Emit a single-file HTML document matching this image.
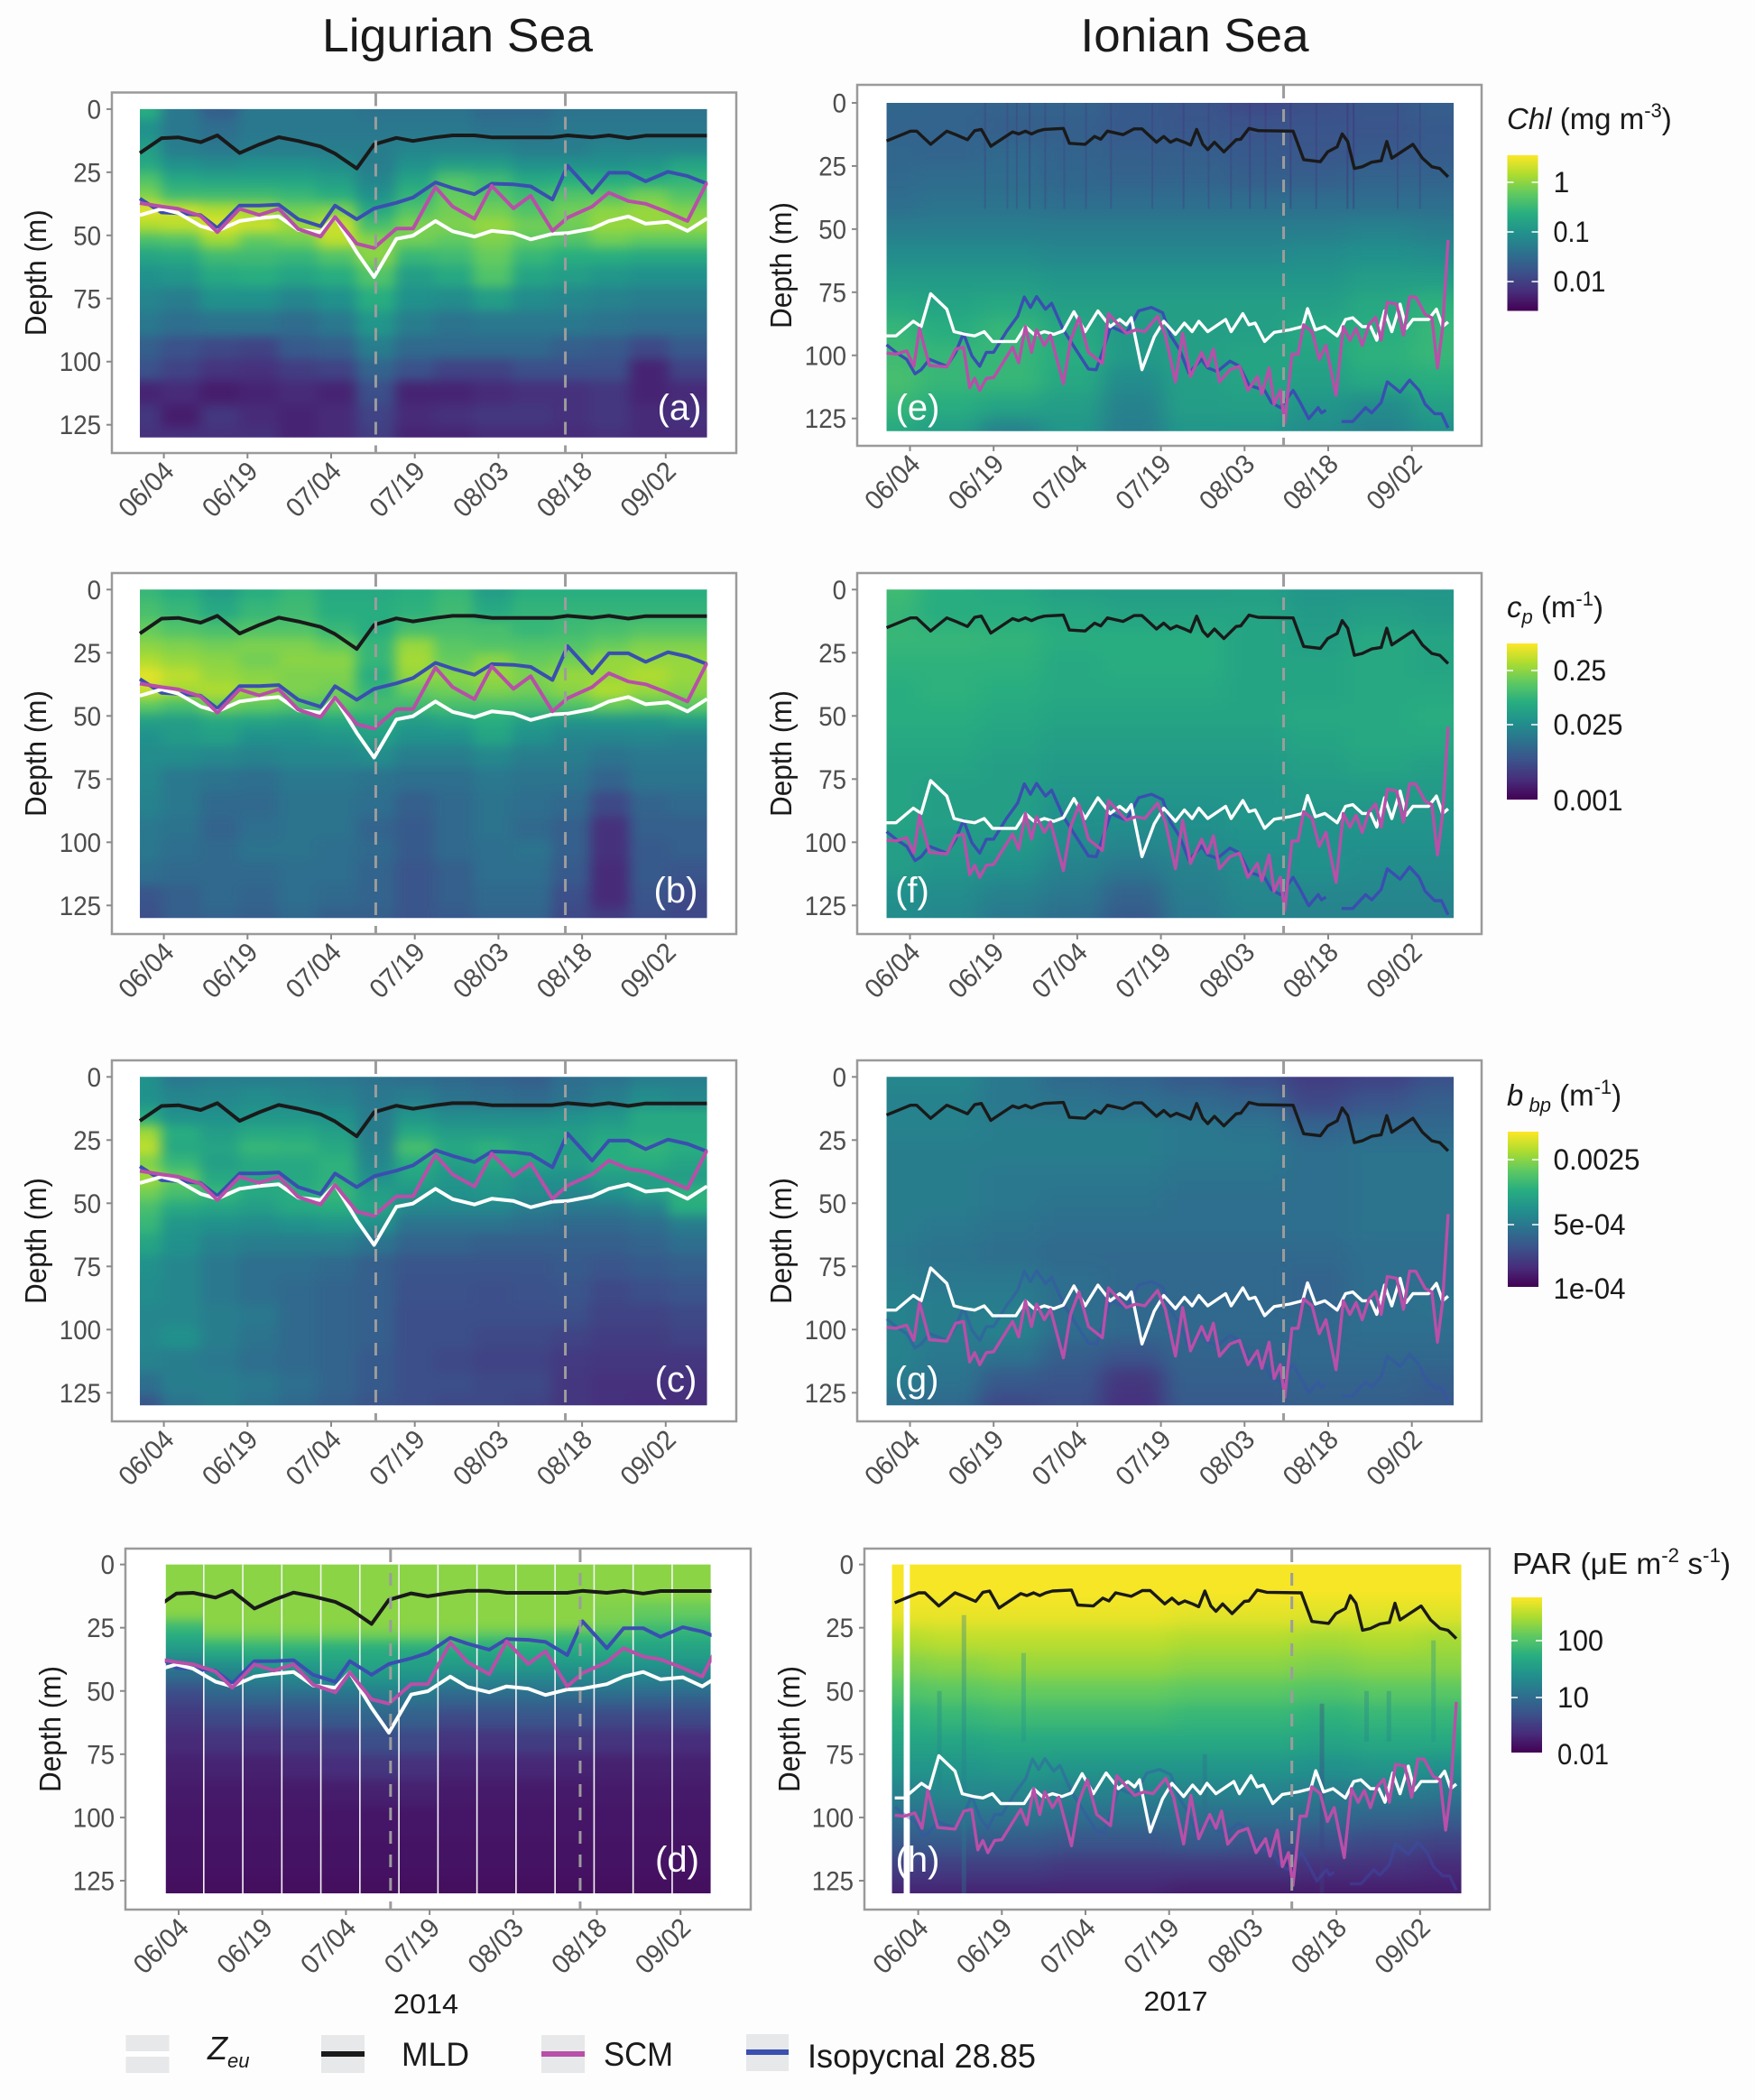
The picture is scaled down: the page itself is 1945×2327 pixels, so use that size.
<!DOCTYPE html>
<html lang="en">
<head>
<meta charset="utf-8">
<title>Ligurian Sea and Ionian Sea depth-time sections</title>
<style>
html,body{margin:0;padding:0;background:#fdfdfd;}
svg{display:block;font-family:"Liberation Sans",sans-serif;}
</style>
</head>
<body>
<svg id="figure" xmlns="http://www.w3.org/2000/svg" width="1945" height="2327" viewBox="0 0 1945 2327">
  <defs>
    <filter id="blur-ligurian" filterUnits="userSpaceOnUse" x="0" y="0" width="1945" height="2327" color-interpolation-filters="sRGB"><feGaussianBlur stdDeviation="7 6"/></filter>
    <filter id="blur-weekly" filterUnits="userSpaceOnUse" x="0" y="0" width="1945" height="2327" color-interpolation-filters="sRGB"><feGaussianBlur stdDeviation="0 6"/></filter>
    <filter id="blur-ionian" filterUnits="userSpaceOnUse" x="0" y="0" width="1945" height="2327" color-interpolation-filters="sRGB"><feGaussianBlur stdDeviation="12 9"/></filter>
    <linearGradient id="viridis-bar" x1="0" y1="1" x2="0" y2="0">
      <stop offset="0" stop-color="#440154"/><stop offset="0.125" stop-color="#472d7b"/><stop offset="0.25" stop-color="#3b528b"/><stop offset="0.375" stop-color="#2c728e"/><stop offset="0.5" stop-color="#21918c"/><stop offset="0.625" stop-color="#28ae80"/><stop offset="0.75" stop-color="#5ec962"/><stop offset="0.875" stop-color="#addc30"/><stop offset="1" stop-color="#fde725"/>
    </linearGradient>
  </defs>

  <text x="507" y="57" font-size="52" text-anchor="middle" fill="#1a1a1a" textLength="300" lengthAdjust="spacingAndGlyphs">Ligurian Sea</text>
  <text x="1324" y="57" font-size="52" text-anchor="middle" fill="#1a1a1a" textLength="253" lengthAdjust="spacingAndGlyphs">Ionian Sea</text>

  <g id="panels"></g>

  <g>
    <text x="1670" y="143" font-size="33" fill="#1a1a1a"><tspan font-style="italic">Chl</tspan> (mg m<tspan dy="-13" font-size="22">-3</tspan><tspan dy="13">)</tspan></text>
    <rect x="1670.5" y="172" width="34" height="172.5" fill="url(#viridis-bar)"/>
    <path d="M1670.5 202h7M1697.5 202h7M1670.5 257h7M1697.5 257h7M1670.5 312h7M1697.5 312h7" stroke="#fff" stroke-width="1.5"/>
    <text x="1721.5" y="213" font-size="32" fill="#1a1a1a">1</text>
    <text x="1721.5" y="268" font-size="32" fill="#1a1a1a" textLength="40" lengthAdjust="spacingAndGlyphs">0.1</text>
    <text x="1721.5" y="323" font-size="32" fill="#1a1a1a" textLength="58" lengthAdjust="spacingAndGlyphs">0.01</text>
  </g>
  <g>
    <text x="1670" y="684" font-size="33" fill="#1a1a1a"><tspan font-style="italic">c</tspan><tspan font-style="italic" font-size="22" dy="7">p</tspan><tspan dy="-7"> (m</tspan><tspan dy="-13" font-size="22">-1</tspan><tspan dy="13">)</tspan></text>
    <rect x="1670" y="713" width="34" height="173" fill="url(#viridis-bar)"/>
    <path d="M1670 743h7M1697 743h7M1670 803h7M1697 803h7" stroke="#fff" stroke-width="1.5"/>
    <text x="1721.5" y="754" font-size="32" fill="#1a1a1a" textLength="58.6" lengthAdjust="spacingAndGlyphs">0.25</text>
    <text x="1721.5" y="814" font-size="32" fill="#1a1a1a" textLength="77" lengthAdjust="spacingAndGlyphs">0.025</text>
    <text x="1721.5" y="898" font-size="32" fill="#1a1a1a" textLength="77" lengthAdjust="spacingAndGlyphs">0.001</text>
  </g>
  <g>
    <text x="1670" y="1225" font-size="33" fill="#1a1a1a"><tspan font-style="italic">b</tspan><tspan font-style="italic" font-size="22" dy="7"> bp</tspan><tspan dy="-7"> (m</tspan><tspan dy="-13" font-size="22">-1</tspan><tspan dy="13">)</tspan></text>
    <rect x="1671" y="1254" width="34" height="172" fill="url(#viridis-bar)"/>
    <path d="M1671 1285h7M1698 1285h7M1671 1357h7M1698 1357h7" stroke="#fff" stroke-width="1.5"/>
    <text x="1721.5" y="1296" font-size="32" fill="#1a1a1a" textLength="96" lengthAdjust="spacingAndGlyphs">0.0025</text>
    <text x="1721.5" y="1368" font-size="32" fill="#1a1a1a" textLength="80" lengthAdjust="spacingAndGlyphs">5e-04</text>
    <text x="1721.5" y="1439" font-size="32" fill="#1a1a1a" textLength="80" lengthAdjust="spacingAndGlyphs">1e-04</text>
  </g>
  <g>
    <text x="1676" y="1744" font-size="33" fill="#1a1a1a" textLength="242" lengthAdjust="spacingAndGlyphs">PAR (μE m<tspan dy="-13" font-size="22">-2</tspan><tspan dy="13"> s</tspan><tspan dy="-13" font-size="22">-1</tspan><tspan dy="13">)</tspan></text>
    <rect x="1675" y="1770" width="34" height="172" fill="url(#viridis-bar)"/>
    <path d="M1675 1818h7M1702 1818h7M1675 1881h7M1702 1881h7" stroke="#fff" stroke-width="1.5"/>
    <text x="1726" y="1829" font-size="32" fill="#1a1a1a" textLength="51" lengthAdjust="spacingAndGlyphs">100</text>
    <text x="1726" y="1892" font-size="32" fill="#1a1a1a" textLength="35" lengthAdjust="spacingAndGlyphs">10</text>
    <text x="1726" y="1955" font-size="32" fill="#1a1a1a" textLength="57" lengthAdjust="spacingAndGlyphs">0.01</text>
  </g>

  <text x="472" y="2231" font-size="31" text-anchor="middle" fill="#1a1a1a" textLength="72" lengthAdjust="spacingAndGlyphs">2014</text>
  <text x="1303" y="2228" font-size="31" text-anchor="middle" fill="#1a1a1a" textLength="71" lengthAdjust="spacingAndGlyphs">2017</text>

  <g>
    <g>
      <rect x="139.5" y="2255" width="48" height="42" fill="#e6e8e9"/>
      <path d="M139.5 2276H187.5" stroke="#fff" stroke-width="6"/>
      <text x="230" y="2282" font-size="36" font-style="italic" fill="#1a1a1a">Z<tspan dy="9" font-size="22">eu</tspan></text>
    </g>
    <g>
      <rect x="356" y="2255" width="48" height="42" fill="#e6e8e9"/>
      <path d="M356 2276H404" stroke="#1a1a1a" stroke-width="6"/>
      <text x="445" y="2289" font-size="37" fill="#1a1a1a" textLength="75" lengthAdjust="spacingAndGlyphs">MLD</text>
    </g>
    <g>
      <rect x="600" y="2255" width="48" height="42" fill="#e6e8e9"/>
      <path d="M600 2276H648" stroke="#b84fa8" stroke-width="6"/>
      <text x="669" y="2289" font-size="37" fill="#1a1a1a" textLength="77" lengthAdjust="spacingAndGlyphs">SCM</text>
    </g>
    <g>
      <rect x="827" y="2254" width="47" height="41" fill="#e6e8e9"/>
      <path d="M827 2274H874" stroke="#3a4fb0" stroke-width="6"/>
      <text x="895" y="2291" font-size="37" fill="#1a1a1a" textLength="253" lengthAdjust="spacingAndGlyphs">Isopycnal 28.85</text>
    </g>
  </g>
</svg>

<script>
/* ---------- axis labels ---------- */
const depthTicks = [0, 25, 50, 75, 100, 125];
const dateTickDays = [0, 15, 30, 45, 60, 75, 90];
const dateTickLabels = ["06/04", "06/19", "07/04", "07/19", "08/03", "08/18", "09/02"];
const ligurianDashDays = [38, 72];
const ionianDashDays = [67];

/* ---------- Ligurian 2014 lines (days after 06/04, depth in m) ---------- */
const ligurianDays = [-4.3,-0.4,2.6,6.6,9.6,13.6,17.1,20.6,24.1,28.1,30.7,34.6,37.7,41.7,44.7,48.7,51.8,55.7,58.8,62.7,65.8,69.7,72.4,76.8,79.8,83.3,86.4,90.4,93.9,97.4];
const ligurianMld = [17.4,11.5,11.2,13.1,10.4,17.4,14,11.1,12.6,14.8,17.6,23.5,14,11.4,12.6,11.2,10.4,10.4,11.2,11.2,11.2,11.2,10.4,11.2,10.4,11.5,10.5,10.5,10.5,10.5];
const ligurianIso = [35.4,40.9,41.2,42,47.1,38.2,38.2,37.8,43.6,46.4,38.2,43.6,39.3,37.1,35,29,31.3,33.7,29.5,29.8,30.6,35.8,22.4,33.1,25.2,25.2,28.6,24.8,26.5,29.5];
const ligurianScm = [37.2,38.6,39.5,42.3,48.7,39.5,41.9,39.5,47.5,50.5,42.7,53.3,55,47.3,47.3,30.9,38.6,43.4,30.4,39.3,34.3,48.2,43,38.6,33.1,36.4,37.5,40.9,44.3,29];
const ligurianZeu = [42,39.5,41.2,46.3,48.2,44.3,43.2,42.5,47.8,48.7,42.7,56.7,66.5,51.4,50.1,44.3,48.4,50.5,48.2,49.1,51.6,49.4,49.1,47.3,44.3,42.5,45.4,44.6,48.2,43.3];

/* ---------- Ionian 2017 lines ---------- */
const ionianMldDays = [-4.2,0.1,1.2,3.7,6.6,8.2,10.3,11.6,12.8,14.5,18.4,19.5,20.7,21.8,22.9,24.1,27.5,28.6,31.4,33.1,34.2,35.4,38.2,40.2,41.6,44.2,45.5,46.7,47.8,49.2,50.3,51.4,52.5,53.4,54.6,56.3,58.5,59.3,60.8,62.5,68.7,70.6,73.6,74.9,76.6,77.5,78.5,79.7,81.1,82.8,84.5,85.5,86.4,90.2,91.9,93.6,95,96.5];
const ionianMld = [15.1,11.2,11.2,16.4,11.2,12.6,14.6,11,10.5,17.2,11.5,12.3,11.2,12.3,11.2,10.5,10.1,16,16.4,13.3,14.4,11.2,12.6,10.3,10.3,15.6,13.3,15.6,14.4,15.6,16.7,10.5,16.4,18.5,15.6,19.4,14.6,14.4,10.1,11,11.2,22.5,23.3,19.4,17.4,12.3,15.3,26,25.3,23.5,22.9,15.3,21.9,16.4,21.9,25.3,26,29.3];
const ionianZeuDays = [-4.2,-2.5,0.6,2,3.7,6.6,7.9,9.9,11.6,13.3,14.8,19,20.7,22.4,24.1,25.8,27.5,29.4,31.4,33.7,35.9,37.6,38.8,39.7,41.6,43.8,45.5,47.6,49.2,50.6,51.8,53.4,56.6,57.6,59.7,60.8,61.9,63.6,65.3,68.1,70.4,71.3,72.7,74.4,76.6,78.1,79.4,81.1,82.6,83.7,85.1,86.4,87.9,89,90.2,93,94.4,95.5,96.5];
const ionianZeu = [92.3,92.3,86.5,88.6,75.6,81.7,90.6,91.7,92.3,90.6,94.5,94.5,88.6,92,90.6,91.7,90.3,82.7,90.6,82.4,88.6,85.8,87.9,85.1,105.7,92.7,86.5,91.7,87.2,90.6,86.5,90.6,85.8,90.6,83.5,87.9,87.2,94.5,90.9,89.9,88.6,81.5,89.9,88.6,92.3,85.8,85.1,88.6,88.6,94,82.4,90.6,79.7,89.3,85.8,85.8,81.7,88.6,86.8];
const ionianScmDays = [-4.2,-2.5,-0.6,0.7,1.7,3.5,6.6,8.2,9.6,10.7,11.6,12.5,13.7,15,18.4,19.5,20.7,21.8,22.7,24.1,25.2,27.5,28.8,30.3,32,34.5,35.6,38.8,40.5,42.1,44.4,45.8,47.6,48.9,50.3,52.3,53.4,54.4,55.5,57.4,59.1,60.6,62.3,63.1,64.4,65.3,66.4,67.2,68.5,69.6,70.6,72.1,73.4,74.6,76.4,77.7,78.9,80,81.1,82.3,83.5,84.5,85.6,87.3,88.5,89.6,90.7,92.4,93.6,94.6,95.5,96.5];
const ionianScm = [99.1,99.5,98.2,104.3,89.3,104,104.6,97.5,96.8,112.8,109.1,113.9,109.1,108.8,96.8,102.9,88.6,98.8,89.9,96.1,92,111.2,94,85.1,98.8,103.2,83.5,91.3,89.9,90.6,84.5,92,110.5,91.3,108.4,98.8,104.3,97.5,110.5,105.7,104.3,113.9,108.4,115.3,105,119.4,113.9,126.9,99.5,99.5,87.9,90.6,101.6,96.1,115.9,88.6,94,89.3,96.1,87.9,84.9,94,79,79.7,92,76.9,76.9,83.8,85.1,105,89.3,54.3];
const ionianIsoDays = [-4.2,-2.5,-0.6,0.9,2,3.5,6.6,8.2,9.6,11.1,12.5,13.7,15,17.3,19.3,20.5,21.6,22.7,24.3,25.4,27.5,29.7,32,33.4,34.5,36,38.8,41,43.3,45.3,46.7,48.3,50,52.3,53.4,55.1,57.4,59.1,60.8,63.6,64.8,66.4,68.7,69.8,71.5,73.2,73.8,74.6,76,77.4,79.4,81.7,82.8,84.5,85.6,87.9,89.6,91.3,92.4,94.1,95.3,96.5];
const ionianIso = [95.8,98.8,101.6,107.3,105.7,101.6,104.3,98.8,91.3,100.2,104.3,98.8,98.8,90.6,84.5,76.9,81,76.7,81.7,79.4,89.9,97.5,105.4,105.7,98.8,88.6,91.3,82.4,81,83.1,92,97.5,107,101.6,105,106.4,102.3,104.3,111.8,113.9,118.7,120.7,113.9,118,125.1,120.7,122.8,121.7,null,126.2,126.2,120.7,122.8,118.7,110.5,114.6,109.8,113.9,119.4,123.1,123.1,128.7];

/* ---------- heatmap grids: sample days, sample depths, colour-scale position 0-100 ---------- */
const ligurianGridDays = [-4,3,10,17,24,31,38,45,52,59,66,73,80,87,94];
const ligurianGridDepths = [0,8,16,22,28,34,40,46,52,58,66,75,85,95,103,112,122,130];
const heatA = [
[62,40,30,40,40,40,38,38,38,34,34,38,38,38,38],
[50,40,36,40,40,40,40,40,40,38,38,40,40,40,40],
[55,42,40,42,42,42,42,45,45,45,42,42,45,45,45],
[60,50,48,50,50,48,42,50,55,55,50,50,50,52,58],
[72,60,58,58,58,55,45,58,72,68,60,62,62,62,65],
[80,68,68,68,66,62,50,65,76,72,68,72,72,78,72],
[96,92,88,86,78,80,60,72,78,78,72,78,82,84,80],
[88,90,95,92,85,92,70,80,80,84,78,78,84,84,84],
[70,72,85,75,78,90,82,78,75,80,75,72,78,75,75],
[58,60,68,68,66,72,82,66,68,76,66,62,62,60,60],
[50,52,60,62,58,62,72,55,60,72,58,55,52,50,50],
[45,42,50,50,45,50,62,50,48,55,48,46,44,42,42],
[40,36,38,38,35,40,52,42,38,40,40,40,38,36,36],
[30,25,22,20,28,30,42,34,34,34,34,30,28,22,28],
[25,20,15,14,18,20,32,25,20,20,24,24,24,10,20],
[10,12,8,10,12,10,24,10,10,12,14,14,16,10,12],
[16,8,16,12,10,12,20,12,14,16,16,14,16,12,14],
[14,14,14,14,10,12,18,10,10,12,12,12,14,12,12]];
const heatB = [
[66,62,55,62,66,60,60,62,66,55,62,62,62,62,62],
[70,66,60,66,68,62,62,64,68,60,65,65,65,65,65],
[76,72,70,72,72,66,62,70,70,70,66,68,70,72,72],
[82,80,78,80,80,76,66,84,74,72,72,72,76,80,80],
[88,84,82,78,82,82,66,86,76,82,76,78,84,84,84],
[96,90,84,82,80,80,62,84,82,84,80,84,84,88,84],
[92,86,88,84,80,78,66,76,78,80,78,82,88,84,82],
[75,70,78,75,72,74,70,68,70,70,70,72,76,74,74],
[56,55,60,58,56,60,62,55,58,62,55,52,52,52,56],
[50,54,56,50,50,52,56,50,50,58,50,45,45,46,44],
[48,48,46,44,46,46,48,42,42,46,42,42,38,40,40],
[46,40,38,36,40,40,38,36,36,40,38,38,32,38,38],
[44,40,34,34,38,38,36,30,34,38,36,34,22,32,34],
[40,38,32,36,38,38,32,28,34,38,34,30,14,30,30],
[40,36,34,38,38,36,34,28,34,36,38,30,14,28,30],
[36,34,34,34,36,36,32,26,30,36,36,28,12,28,26],
[26,30,34,32,36,34,32,26,30,34,34,24,12,26,22],
[24,30,32,30,34,30,30,26,28,32,32,22,18,24,22]];
const heatC = [
[50,40,42,42,42,40,38,36,34,32,30,36,38,42,42],
[50,45,46,48,46,44,40,42,38,36,34,38,42,48,46],
[60,50,50,52,52,50,42,52,48,48,48,50,52,60,60],
[85,62,55,60,60,56,42,60,55,55,55,55,58,60,60],
[90,60,58,66,65,60,44,70,60,64,58,55,62,65,62],
[80,66,56,60,60,64,46,62,56,60,58,55,62,62,58],
[86,76,60,60,60,64,50,58,52,54,50,50,55,55,55],
[78,70,66,60,62,66,56,52,50,52,48,46,50,56,64],
[70,60,58,55,60,62,58,46,46,46,42,40,40,44,62],
[66,52,50,48,50,52,50,38,38,38,36,34,34,36,42],
[58,50,44,42,42,42,38,32,32,30,30,30,30,32,36],
[50,46,40,36,36,34,30,26,26,26,26,28,26,28,30],
[48,46,40,36,34,32,30,25,25,24,25,26,22,24,26],
[46,46,42,40,34,32,30,24,24,24,24,24,20,20,22],
[46,50,42,38,34,32,30,24,24,22,22,20,18,18,20],
[44,42,40,36,34,32,28,24,22,20,20,17,16,16,16],
[36,42,42,40,36,32,28,24,24,22,22,16,14,14,14],
[26,38,42,38,34,30,26,24,22,22,20,16,14,13,13]];
const weeklyGridDays = [1,8,15,22,29,36,43,50,57,64,71,78,85,92];
const weeklyGridDepths = [0,10,20,24,28,32,36,40,45,50,55,60,70,80,90,100,115,130];
const heatD = [
[82,82,82,82,82,82,82,82,82,82,82,82,82,82],
[82,82,82,82,82,82,82,82,82,82,82,82,82,82],
[82,82,82,82,82,82,82,82,82,82,82,80,76,76],
[68,82,82,82,82,82,82,82,82,82,82,78,70,68],
[62,78,78,78,78,78,78,78,74,72,68,70,64,64],
[56,64,66,66,64,64,64,62,62,62,62,62,58,58],
[50,58,60,60,60,60,58,58,58,58,58,58,56,56],
[40,48,52,54,56,58,56,54,54,54,52,52,50,50],
[34,42,44,46,50,52,50,46,46,46,46,46,44,44],
[24,34,36,38,40,44,42,36,38,38,38,38,36,36],
[20,28,30,30,34,38,36,30,30,32,30,30,28,28],
[16,22,22,24,28,32,30,22,24,26,24,22,20,22],
[12,15,14,16,18,24,22,15,15,18,16,15,13,13],
[9,10,9,11,13,16,14,10,10,11,10,9,9,9],
[7,7,7,7,8,9,9,7,7,7,7,7,7,7],
[6,6,6,6,6,6,6,6,6,6,6,6,6,6],
[5,5,5,5,5,5,5,5,5,5,5,5,5,5],
[4,4,4,4,4,4,4,4,4,4,4,4,4,4]];
const ionianGridDays = [-4,7,18,29,40,51,62,73,84,96];
const ionianGridDepths = [0,10,20,30,40,50,60,70,80,90,100,110,120,130];
const heatE = [
[33,32,32,32,28,26,22,24,27,30],
[32,32,30,30,28,27,26,26,26,28],
[33,32,34,32,30,30,28,27,28,29],
[34,35,35,33,32,32,30,30,32,32],
[36,38,38,36,36,36,36,36,36,36],
[42,42,42,42,42,42,42,42,44,42],
[48,48,48,46,46,46,46,48,50,48],
[54,54,54,52,52,52,52,52,55,55],
[60,58,60,56,56,56,56,56,60,64],
[66,62,66,60,54,56,56,60,62,66],
[68,66,66,62,54,56,58,58,64,66],
[70,66,66,60,48,56,58,56,60,62],
[66,62,58,55,44,55,56,52,48,56],
[60,55,44,52,42,52,52,48,44,50]];
const heatF = [
[68,62,60,56,55,55,56,52,52,52],
[66,62,62,60,58,58,58,54,56,54],
[66,66,65,62,62,62,58,56,60,58],
[64,64,64,60,62,62,58,58,60,58],
[62,64,62,60,60,60,58,58,60,60],
[62,62,60,58,58,58,58,60,60,62],
[60,60,58,56,56,56,56,58,60,60],
[58,58,56,54,54,54,54,56,58,56],
[58,56,56,52,52,52,52,54,54,54],
[58,56,56,50,50,50,52,52,52,52],
[56,54,54,48,46,48,50,50,50,50],
[55,52,50,44,40,44,48,50,48,48],
[50,48,44,40,32,42,46,46,46,46],
[48,46,40,36,28,40,44,44,44,44]];
const heatG = [
[46,46,40,34,32,28,24,18,20,25],
[44,44,40,38,36,34,32,22,26,30],
[44,44,42,42,42,40,38,32,34,34],
[42,42,42,42,42,40,40,36,38,38],
[42,42,40,40,40,38,38,36,38,38],
[42,42,40,38,38,36,36,36,38,38],
[42,40,38,36,36,36,36,36,38,38],
[40,38,36,34,34,34,34,34,36,36],
[42,40,40,36,34,34,34,32,36,36],
[44,42,42,36,34,34,34,32,36,38],
[44,42,44,36,34,34,34,34,36,36],
[44,40,38,30,26,32,32,34,34,34],
[42,38,28,26,16,30,30,32,32,30],
[36,34,22,24,14,28,28,30,30,28]];
const heatH = [
[99,99,99,99,99,99,99,99,99,99],
[99,99,99,99,99,99,99,99,99,99],
[97,97,97,97,97,96,96,95,95,95],
[88,90,90,90,90,88,88,86,88,86],
[80,82,84,84,84,82,82,80,82,82],
[72,74,76,76,76,74,74,72,74,74],
[64,66,68,68,68,66,66,64,66,66],
[58,58,60,60,60,60,60,58,60,60],
[52,52,54,52,52,52,52,50,52,50],
[44,46,46,44,44,44,44,42,42,40],
[36,38,38,36,36,36,36,34,32,30],
[28,28,28,26,26,28,26,24,22,20],
[18,18,18,16,16,16,16,14,14,12],
[10,10,10,10,10,8,8,8,8,8]];

/* thin vertical streaks (e) and (h) */
const chlStreakDays = [13.3,17.3,19,21.3,24.1,27.5,31.4,35.9,43.3,48.9,53.4,57.4,60.8,63.6,68.1,72.7,78.3,79.4,87.3,91.3];
const chlStreakLevels = [15,18,15,12,15,18,15,15,15,12,15,15,12,12,10,12,8,8,14,14];
const parStreakDays = [3.4,7.8,18.5,51,72,80,84,92];
const parStreakStarts = [50,20,35,75,55,50,50,30];
const parStreakEnds = [90,130,70,100,130,70,70,70];
const parStreakLevels = [45,42,50,35,20,45,45,50];

const viridisStops = [[68,1,84],[71,45,123],[59,82,139],[44,114,142],[33,145,140],[40,174,128],[94,201,98],[173,220,48],[253,231,37]];
function viridis(v){
  const t = Math.max(0, Math.min(1, v / 100)) * 8;
  const i = Math.min(7, Math.floor(t));
  const f = t - i;
  const a = viridisStops[i];
  const b = viridisStops[i + 1];
  return 'rgb(' + [0, 1, 2].map(function (k) { return Math.round(a[k] + (b[k] - a[k]) * f); }).join(',') + ')';
}

/* layout only: boxes and axis scales for every panel */
const ligurianLines = { zeu: [ligurianDays, ligurianZeu], mld: [ligurianDays, ligurianMld], iso: [ligurianDays, ligurianIso], scm: [ligurianDays, ligurianScm] };
const ionianLines = { zeu: [ionianZeuDays, ionianZeu], mld: [ionianMldDays, ionianMld], iso: [ionianIsoDays, ionianIso], scm: [ionianScmDays, ionianScm] };
const panelSpecs = [
 {id:'a', l:124, t:102.5, r:816,  b:502,  y0:120.9,  y125:470.7,  x0:181.6,  pd:6.18, d0:-4.3, d1:97.4, days:ligurianGridDays, depths:ligurianGridDepths, heat:heatA, filter:'blur-ligurian', lines:ligurianLines, dash:ligurianDashDays, lab:[753,465], titleX:51, w:4},
 {id:'b', l:124, t:635,   r:816,  b:1035, y0:653.3,  y125:1003.3, x0:181.6,  pd:6.18, d0:-4.3, d1:97.4, days:ligurianGridDays, depths:ligurianGridDepths, heat:heatB, filter:'blur-ligurian', lines:ligurianLines, dash:ligurianDashDays, lab:[749,1000], titleX:51, w:4},
 {id:'c', l:124, t:1175,  r:816,  b:1575, y0:1193.3, y125:1543.3, x0:181.6,  pd:6.18, d0:-4.3, d1:97.4, days:ligurianGridDays, depths:ligurianGridDepths, heat:heatC, filter:'blur-ligurian', lines:ligurianLines, dash:ligurianDashDays, lab:[749,1542], titleX:51, w:4},
 {id:'d', l:139, t:1716,  r:832,  b:2116, y0:1733.6, y125:2084,   x0:198,    pd:6.18, d0:-2.3, d1:95.4, days:weeklyGridDays, depths:weeklyGridDepths, heat:heatD, filter:'blur-weekly', lines:ligurianLines, dash:ligurianDashDays, lab:[750.5,2074], titleX:67, w:4, weekly:true},
 {id:'e', l:950, t:94,    r:1642, b:494,  y0:114,    y125:463.7,  x0:1008.5, pd:6.18, d0:-4.2, d1:97.5, days:ionianGridDays, depths:ionianGridDepths, heat:heatE, filter:'blur-ionian', lines:ionianLines, dash:ionianDashDays, lab:[1017,465], titleX:877, w:3.4, isoOpacity:1, streak:'chl'},
 {id:'f', l:950, t:635,   r:1642, b:1035, y0:653.3,  y125:1003.3, x0:1008.5, pd:6.18, d0:-4.2, d1:97.5, days:ionianGridDays, depths:ionianGridDepths, heat:heatF, filter:'blur-ionian', lines:ionianLines, dash:ionianDashDays, lab:[1011,1000], titleX:877, w:3.4, isoOpacity:1},
 {id:'g', l:950, t:1175,  r:1642, b:1575, y0:1193.3, y125:1543.3, x0:1008.5, pd:6.18, d0:-4.2, d1:97.5, days:ionianGridDays, depths:ionianGridDepths, heat:heatG, filter:'blur-ionian', lines:ionianLines, dash:ionianDashDays, lab:[1016,1542], titleX:877, w:3.4, isoOpacity:0.45},
 {id:'h', l:958, t:1716,  r:1651, b:2116, y0:1733.6, y125:2084,   x0:1017.6, pd:6.18, d0:-4.7, d1:97.4, days:ionianGridDays, depths:ionianGridDepths, heat:heatH, filter:'blur-ionian', lines:ionianLines, dash:ionianDashDays, lab:[1017,2074], titleX:886, w:3.4, isoOpacity:0.4, streak:'par', gap:[-2.6,-1.5]}
];

const NS = 'http://www.w3.org/2000/svg';
function mk(tag, attrs, parent){
  const el = document.createElementNS(NS, tag);
  Object.keys(attrs).forEach(function (k) { el.setAttribute(k, attrs[k]); });
  parent.appendChild(el);
  return el;
}
const root = document.getElementById('panels');
const defs = document.querySelector('#figure defs');

panelSpecs.forEach(function (p) {
  const xOf = function (day) { return p.x0 + day * p.pd; };
  const yOf = function (depth) { return p.y0 + depth * (p.y125 - p.y0) / 125; };

  const g = mk('g', {}, root);
  
  

  const frame = mk('rect', {x:p.l, y:p.t, width:p.r - p.l, height:p.b - p.t, fill:'#ffffff', stroke:'#9a9a9a', 'stroke-width':2.5}, g);
  
  

  const clip = mk('clipPath', {id:'clip-' + p.id}, defs);
  mk('rect', {x:xOf(p.d0), y:yOf(0), width:xOf(p.d1) - xOf(p.d0), height:yOf(130) - yOf(0)}, clip);

  const clipped = mk('g', {'clip-path':'url(#clip-' + p.id + ')'}, g);
  
  
  const blurred = mk('g', {filter:'url(#' + p.filter + ')'}, clipped);
  
  

  p.heat.forEach(function (row, ri) {
    const yTop = ri === 0 ? yOf(0) - 40 : (yOf(p.depths[ri - 1]) + yOf(p.depths[ri])) / 2;
    const yBot = ri === p.heat.length - 1 ? yOf(130) + 40 : (yOf(p.depths[ri]) + yOf(p.depths[ri + 1])) / 2;
    row.forEach(function (v, ci) {
      const xL = ci === 0 ? xOf(p.d0) - 40 : (xOf(p.days[ci - 1]) + xOf(p.days[ci])) / 2;
      const xR = ci === row.length - 1 ? xOf(p.d1) + 40 : (xOf(p.days[ci]) + xOf(p.days[ci + 1])) / 2;
      const cell = mk('rect', {x:xL, y:yTop, width:xR - xL + 0.6, height:yBot - yTop + 0.6, fill:viridis(v)}, blurred);
      
      
    });
  });

  if (p.streak === 'chl') {
    chlStreakDays.forEach(function (day, i) {
      const s = mk('rect', {x:xOf(day), y:yOf(0), width:2, height:yOf(42) - yOf(0), fill:viridis(chlStreakLevels[i]), opacity:0.3}, clipped);
      
      
    });
  }
  if (p.streak === 'par') {
    parStreakDays.forEach(function (day, i) {
      const s = mk('rect', {x:xOf(day), y:yOf(parStreakStarts[i]), width:5, height:yOf(parStreakEnds[i]) - yOf(parStreakStarts[i]), fill:viridis(parStreakLevels[i]), opacity:0.35}, clipped);
      
      
    });
  }
  if (p.weekly) {
    p.days.slice(0, -1).forEach(function (day, i) {
      const sep = mk('line', {x1:(xOf(day) + xOf(p.days[i + 1])) / 2, x2:(xOf(day) + xOf(p.days[i + 1])) / 2, y1:yOf(0), y2:yOf(130), stroke:'#f4f4f4', 'stroke-width':1.6}, clipped);
      
      
    });
  }
  if (p.gap) {
    const gapBar = mk('rect', {x:xOf(p.gap[0]), y:yOf(0), width:xOf(p.gap[1]) - xOf(p.gap[0]), height:yOf(130) - yOf(0), fill:'#ffffff'}, clipped);
    
    
  }

  const lineGroup = mk('g', {'clip-path':'url(#clip-line-' + p.id + ')'}, g);
  
  
  const lineClip = mk('clipPath', {id:'clip-line-' + p.id}, defs);
  mk('rect', {x:xOf(p.d0) - 1, y:p.t, width:xOf(p.d1) - xOf(p.d0) + 2, height:p.b - p.t}, lineClip);

  function drawLine(key, colour, name, opacity) {
    const days = p.lines[key][0];
    const vals = p.lines[key][1];
    let d = '';
    let pen = false;
    vals.forEach(function (v, i) {
      if (v === null) { pen = false; return; }
      d += (pen ? 'L' : 'M') + xOf(days[i]).toFixed(1) + ' ' + yOf(v).toFixed(1);
      pen = true;
    });
    const path = mk('path', {d:d, fill:'none', stroke:colour, 'stroke-width':p.w, 'stroke-linejoin':'round', opacity:opacity}, lineGroup);
    
    
  }
  drawLine('iso', '#3a4fb0', 'isopycnal-line', p.isoOpacity === undefined ? 1 : p.isoOpacity);
  drawLine('zeu', '#ffffff', 'zeu-line', 1);
  drawLine('scm', '#b84fa8', 'scm-line', 1);
  drawLine('mld', '#1a1a1a', 'mld-line', 1);

  p.dash.forEach(function (day) {
    const dash = mk('line', {x1:xOf(day), x2:xOf(day), y1:p.t + 1, y2:p.b - 1, stroke:'#9c9c9c', 'stroke-width':3, 'stroke-dasharray':'14 12'}, g);
    
    
  });

  depthTicks.forEach(function (depth) {
    const tick = mk('line', {x1:p.l - 6, x2:p.l, y1:yOf(depth), y2:yOf(depth), stroke:'#8a8a8a', 'stroke-width':2}, g);
    
    
    const label = mk('text', {x:p.l - 12, y:yOf(depth) + 10.5, 'font-size':30, 'text-anchor':'end', fill:'#4d4d4d', textLength:String(depth).length * 15.4, lengthAdjust:'spacingAndGlyphs'}, g);
    
    
    label.textContent = depth;
  });

  dateTickDays.forEach(function (day, i) {
    const tx = xOf(day);
    const tick = mk('line', {x1:tx, x2:tx, y1:p.b, y2:p.b + 6, stroke:'#8a8a8a', 'stroke-width':2}, g);
    
    
    const label = mk('text', {'font-size':30, 'text-anchor':'end', fill:'#4d4d4d', textLength:72, lengthAdjust:'spacingAndGlyphs', transform:'translate(' + (tx + 13) + ' ' + (p.b + 22) + ') rotate(-45)'}, g);
    
    
    label.textContent = dateTickLabels[i];
  });

  const yc = (p.t + p.b) / 2;
  const yTitle = mk('text', {'font-size':33, 'text-anchor':'middle', fill:'#1a1a1a', textLength:140, lengthAdjust:'spacingAndGlyphs', transform:'translate(' + p.titleX + ' ' + yc + ') rotate(-90)'}, g);
  
  
  yTitle.textContent = 'Depth (m)';

  const panelLabel = mk('text', {x:p.lab[0], y:p.lab[1], 'font-size':40, 'text-anchor':'middle', fill:'#ffffff'}, g);
  
  
  panelLabel.textContent = '(' + p.id + ')';
});
</script>
</body>
</html>
